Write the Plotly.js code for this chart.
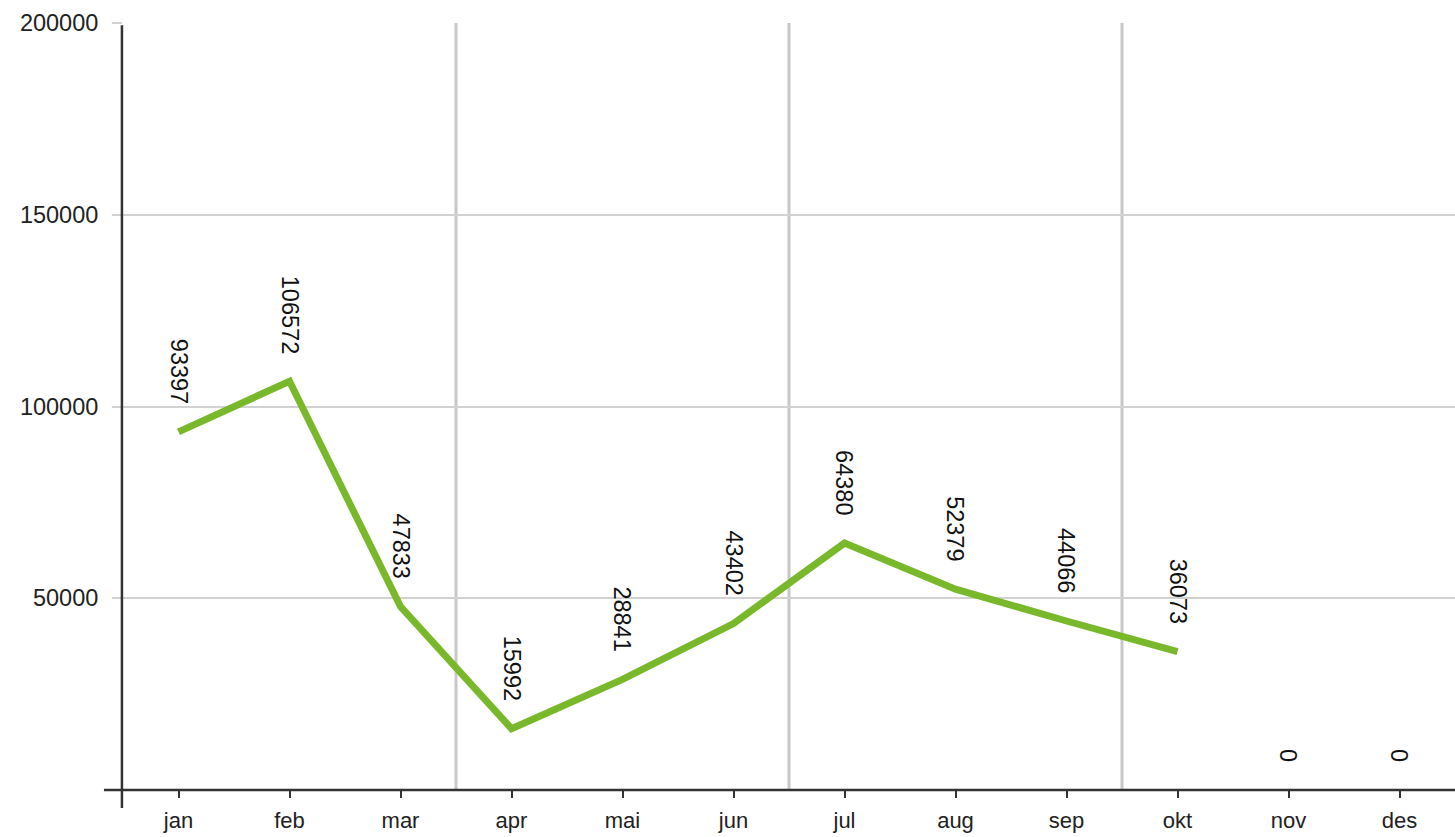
<!DOCTYPE html>
<html>
<head>
<meta charset="utf-8">
<script src="https://cdn.plot.ly/plotly-3.0.1.min.js"></script>
<style>
  html, body { margin: 0; padding: 0; background: #fff; }
  #chart { width: 1455px; height: 837px; }
</style>
</head>
<body>
<div id="chart"></div>
<script>
// ---- data ----
const months = ["jan", "feb", "mar", "apr", "mai", "jun", "jul", "aug", "sep", "okt", "nov", "des"];
const values = [93397, 106572, 47833, 15992, 28841, 43402, 64380, 52379, 44066, 36073, 0, 0];
const reportedMonths = 10; // line is drawn only through "okt"
const yTicks = [50000, 100000, 150000, 200000];
const quarterBreaks = [2.5, 5.5, 8.5];

const lineY = values.map((v, i) => (i < reportedMonths ? v : null));
const xIdx = months.map((m, i) => i);

const trace = {
  x: xIdx,
  y: lineY,
  type: "scatter",
  mode: "lines",
  line: { color: "#78b82a", width: 7 },
  connectgaps: false,
  hoverinfo: "skip"
};

const annotations = values.map((v, i) => ({
  x: i, y: v, xref: "x", yref: "y",
  text: String(v),
  showarrow: false,
  textangle: 90,
  xanchor: "center", yanchor: "bottom",
  yshift: 26,
  font: { family: "Liberation Sans, Arial, sans-serif", size: 23.5, color: "#111" }
}));

const shapes = [];
quarterBreaks.forEach(b => shapes.push({
  type: "line", xref: "x", yref: "paper", x0: b, x1: b, y0: 0, y1: 1,
  line: { color: "#c8c8c8", width: 3 }, layer: "below"
}));
// x axis line (extends a little to the left of the y axis)
shapes.push({ type: "line", xref: "paper", yref: "paper", x0: -0.0143, x1: 1, y0: 0, y1: 0,
  line: { color: "#333", width: 2.5 } });
// y axis line (extends a little below the x axis)
shapes.push({ type: "line", xref: "paper", yref: "paper", x0: -0.0008, x1: -0.0008, y0: -0.0235, y1: 0.997,
  line: { color: "#333", width: 2.5 } });

const layout = {
  width: 1455, height: 837,
  margin: { l: 123, r: 0, t: 23, b: 47 },
  paper_bgcolor: "#fff", plot_bgcolor: "#fff",
  showlegend: false,
  font: { family: "Liberation Sans, Arial, sans-serif", size: 23.5, color: "#222" },
  xaxis: {
    range: [-0.5, 11.5],
    tickmode: "array", tickvals: xIdx, ticktext: months,
    showgrid: false, zeroline: false, showline: false,
    ticks: "outside", ticklen: 7, tickwidth: 2, tickcolor: "#333",
    ticklabelstandoff: 4,
    tickfont: { size: 22 },
    fixedrange: true
  },
  yaxis: {
    range: [0, 200000],
    tickmode: "array", tickvals: yTicks, ticktext: yTicks.map(String),
    showgrid: true, gridcolor: "#d2d2d2", gridwidth: 2,
    zeroline: false, showline: false,
    ticks: "outside", ticklen: 10, tickwidth: 2, tickcolor: "#d2d2d2",
    ticklabelstandoff: 9,
    fixedrange: true
  },
  shapes: shapes,
  annotations: annotations
};

Plotly.newPlot("chart", [trace], layout, { displayModeBar: false, staticPlot: true });
</script>
</body>
</html>
